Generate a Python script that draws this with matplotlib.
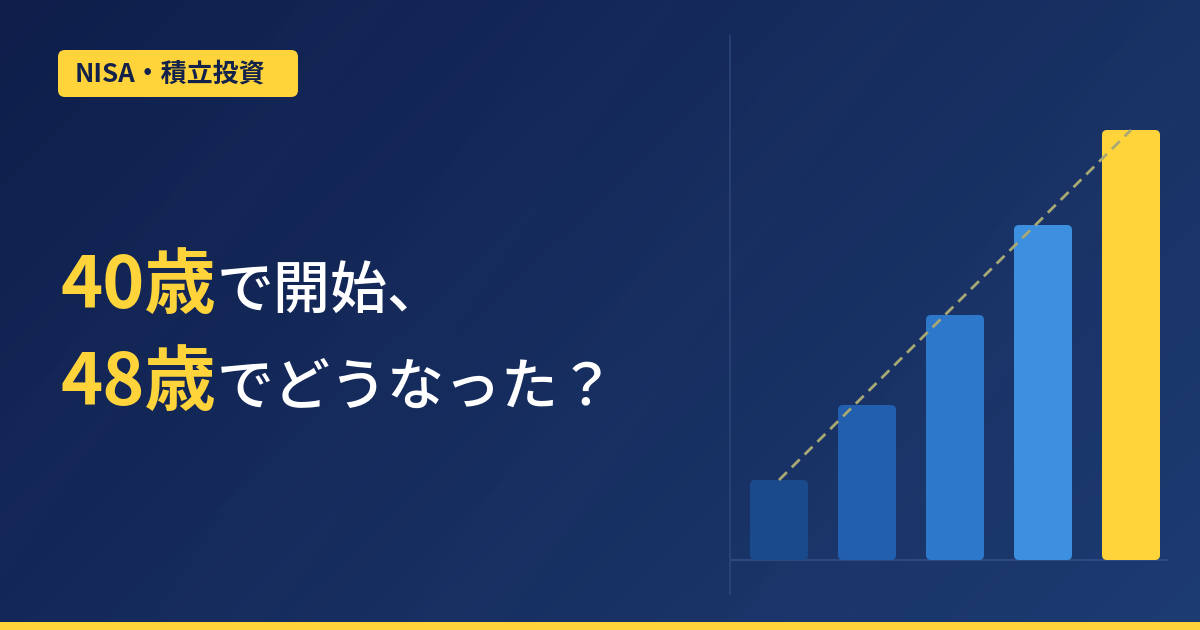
"""
NISA 積立投資のアイキャッチ画像 (棒グラフ付き)
"""
import matplotlib
matplotlib.use("Agg")
import matplotlib.pyplot as plt
import numpy as np
from matplotlib.patches import FancyBboxPatch, Rectangle, Polygon

plt.rcParams['font.family'] = ['Noto Sans CJK JP', 'DejaVu Sans']

# データ
badge_label = "NISA・積立投資"
title_lines = [("40歳", "で開始、"), ("48歳", "でどうなった？")]
years = [0, 1, 2, 3, 4]
values = [80, 155, 245, 335, 430]
bar_colors = ["#1a4a8c", "#225fae", "#2e78cc", "#3d8fe0", "#ffd43b"]

W, H = 1200, 630
fig = plt.figure(figsize=(W / 100, H / 100), dpi=100)

# 背景 (グラデーション)
bg = fig.add_axes([0, 0, 1, 1])
bg.set_xlim(0, W)
bg.set_ylim(H, 0)
bg.axis("off")
yy, xx = np.mgrid[0:H, 0:W]
t = (xx / W) * 0.65 + (yy / H) * 0.35
c0 = np.array([15, 30, 75]) / 255
c1 = np.array([29, 60, 114]) / 255
img = c0[None, None, :] * (1 - t[..., None]) + c1[None, None, :] * t[..., None]
bg.imshow(img, extent=[0, W, H, 0], aspect="auto", zorder=0)

# うっすらした斜めの帯
for x_top, w in [(300, 90), (560, 120), (820, 100), (1150, 110)]:
    band = Polygon([(x_top, 0), (x_top + w, 0), (x_top + w - 420, H), (x_top - 420, H)],
                   closed=True, facecolor="white", alpha=0.007, edgecolor="none", zorder=1)
    bg.add_patch(band)

# 下の黄色い帯
bg.add_patch(Rectangle((0, 622), W, 8, facecolor="#ffd43b", edgecolor="none", zorder=2))

# バッジ
bg.add_patch(FancyBboxPatch((58, 50), 240, 47, boxstyle="round,pad=0,rounding_size=7",
                            facecolor="#ffd43b", edgecolor="none", zorder=3))
bg.text(75, 74.5, badge_label, color="#13224a", fontsize=18.7, fontweight="bold",
        va="center", ha="left", zorder=4)

# タイトル (黄色と白を並べる)
fig.canvas.draw()
renderer = fig.canvas.get_renderer()
baselines = [308, 405]
for (yellow, white), base in zip(title_lines, baselines):
    t1 = bg.text(61, base, yellow, color="#ffd43b", fontsize=51.5, fontweight="bold",
                 va="baseline", ha="left", zorder=4)
    bb = t1.get_window_extent(renderer)
    x_end = bb.x1
    bg.text(x_end, base, white, color="white", fontsize=41, fontweight="medium",
            va="baseline", ha="left", zorder=4)

# グラフ
ax = fig.add_axes([730 / W, (H - 594) / H, 438 / W, 558 / H])
ax.patch.set_alpha(0)
ax.set_xlim(-49 / 88, (1168 - 779) / 88)
ax.set_ylim(-34, 524)
bars = ax.bar(years, values, width=58 / 88, color=bar_colors)
for b in bars:
    b.set_visible(False)
    ax.add_patch(FancyBboxPatch((b.get_x(), b.get_y()), b.get_width(), b.get_height(),
                                boxstyle="round,pad=0,rounding_size=%f" % (5 / 88),
                                mutation_aspect=88, facecolor=b.get_facecolor(),
                                edgecolor="none", zorder=2))
ax.plot([years[0], years[-1]], [values[0], values[-1]], color="#a8a874",
        linewidth=2, dashes=(4, 2.5), zorder=3)
ax.axhline(0, color="#2e4a80", linewidth=1.5, zorder=1)
for s in ["top", "right", "bottom"]:
    ax.spines[s].set_visible(False)
ax.spines["left"].set_color("#2a4478")
ax.spines["left"].set_linewidth(1.2)
ax.set_xticks([])
ax.set_yticks([])

fig.savefig("out.png", dpi=100)
